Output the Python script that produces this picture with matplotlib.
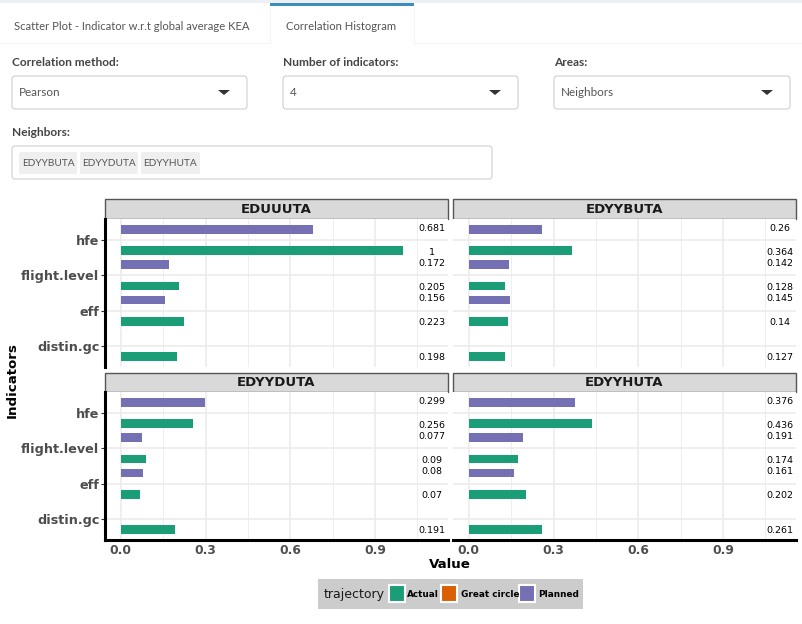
import matplotlib
matplotlib.use("Agg")
import matplotlib.pyplot as plt
from matplotlib.patches import Rectangle, FancyBboxPatch, Polygon

W, H = 803, 624

indicators = ["hfe", "flight.level", "eff", "distin.gc"]
airports = ["EDUUUTA", "EDYYBUTA", "EDYYDUTA", "EDYYHUTA"]
actual = [[1, 0.205, 0.223, 0.198],
          [0.364, 0.128, 0.14, 0.127],
          [0.256, 0.09, 0.07, 0.191],
          [0.436, 0.174, 0.202, 0.261]]
planned = [[0.681, 0.172, 0.156],
           [0.26, 0.142, 0.145],
           [0.299, 0.077, 0.08],
           [0.376, 0.191, 0.161]]
xticks = [0, 0.3, 0.6, 0.9]
xminor = [0.15, 0.45, 0.75, 1.05]

GREEN, ORANGE, PURPLE = "#1b9e77", "#d95f02", "#7570b3"
UI_FONT = "Lato"

fig = plt.figure(figsize=(W / 100, H / 100), dpi=100)

# page elements, drawn in pixel coordinates
bg = fig.add_axes([0, 0, 1, 1])
bg.set_xlim(0, W)
bg.set_ylim(H, 0)
bg.axis("off")

bg.add_patch(Rectangle((0, 0), W, 3, fc="#ecf0f5", ec="none"))
bg.plot([0, 270], [43, 43], color="#f4f4f4", lw=0.8)
bg.plot([414, W], [43, 43], color="#f4f4f4", lw=0.8)
bg.plot([270, 270], [6, 43], color="#f4f4f4", lw=0.8)
bg.plot([414, 414], [6, 43], color="#f4f4f4", lw=0.8)
bg.add_patch(Rectangle((270, 3), 144, 3, fc="#3c8dbc", ec="none"))
bg.text(14, 26, "Scatter Plot - Indicator w.r.t global average KEA", fontsize=8.1,
        color="#555555", family=UI_FONT, va="center")
bg.text(286, 26, "Correlation Histogram", fontsize=8.1, color="#555555",
        family=UI_FONT, va="center")


def select_box(x0, x1, y0, y1):
    bg.add_patch(FancyBboxPatch((x0 + 3, y0 + 3), x1 - x0 - 6, y1 - y0 - 6,
                                boxstyle="round,pad=3,rounding_size=3",
                                fc="white", ec="#c8c8c8", lw=0.7))


inputs = [(12, 247, "Correlation method:", "Pearson"),
          (283, 518, "Number of indicators:", "4"),
          (554, 790, "Areas:", "Neighbors")]
for x0, x1, title, value in inputs:
    bg.text(x0, 63, title, fontsize=8.6, fontweight="bold", color="#444444",
            family=UI_FONT, va="center")
    select_box(x0, x1, 76, 109)
    bg.text(x0 + 7, 93, value, fontsize=8.4, color="#555555", family=UI_FONT, va="center")
    ax_x = x1 - 23
    bg.add_patch(Polygon([(ax_x - 6, 90), (ax_x + 6, 90), (ax_x, 95)], fc="#333333", ec="none"))

bg.text(12, 133, "Neighbors:", fontsize=8.6, fontweight="bold", color="#444444",
        family=UI_FONT, va="center")
select_box(12, 492, 146, 179)
chips = [(19, 77), (80, 138), (141, 200)]
for (x0, x1), name in zip(chips, airports[1:]):
    bg.add_patch(FancyBboxPatch((x0 + 2, 154), x1 - x0 - 4, 18,
                                boxstyle="round,pad=2,rounding_size=2",
                                fc="#efefef", ec="none"))
    bg.text((x0 + x1) / 2, 163, name, fontsize=7.3, color="#555555", family=UI_FONT,
            ha="center", va="center")

# facets
panel_x = [(105, 448), (453, 796), (105, 448), (453, 796)]
panel_y = [(219, 367), (219, 367), (392, 540), (392, 540)]
strip_y = [(199, 219), (199, 219), (373, 392), (373, 392)]

for i, name in enumerate(airports):
    x0, x1 = panel_x[i]
    y0, y1 = panel_y[i]
    ax = fig.add_axes([x0 / W, 1 - y1 / H, (x1 - x0) / W, (y1 - y0) / H])
    ax.set_xlim(-0.0556, 1.158)
    ax.set_ylim(3.6, -0.6)
    ax.set_xticks(xticks)
    ax.set_xticks(xminor, minor=True)
    ax.set_yticks(range(len(indicators)))
    ax.set_yticklabels(indicators)
    ax.set_axisbelow(True)
    ax.grid(True, which="major", color="#ebebeb", lw=1.1)
    ax.grid(True, which="minor", axis="x", color="#ebebeb", lw=0.6)
    for s in ax.spines.values():
        s.set_visible(False)

    for j, v in enumerate(actual[i]):
        ax.barh(j + 0.3, v, height=0.25, color=GREEN, lw=0)
        ax.annotate(str(v), (1.1, j + 0.3), xytext=(0, -1), textcoords="offset points",
                    ha="center", va="center", fontsize=6.8, color="black")
    for j, v in enumerate(planned[i]):
        ax.barh(j - 0.3, v, height=0.25, color=PURPLE, lw=0)
        ax.annotate(str(v), (1.1, j - 0.3), xytext=(0, 1), textcoords="offset points",
                    ha="center", va="center", fontsize=6.8, color="black")

    ax.tick_params(which="both", bottom=False, left=False, labelbottom=False, labelleft=False)
    if i in (0, 2):
        ax.spines["left"].set_visible(True)
        ax.spines["left"].set_linewidth(2.2)
        ax.tick_params(axis="y", left=True, labelleft=True, length=3, width=0.8, pad=1,
                       color="#333333", labelcolor="#4d4d4d", labelsize=9.2)
        for lab in ax.get_yticklabels():
            lab.set_fontweight("bold")
    if i in (2, 3):
        ax.spines["bottom"].set_visible(True)
        ax.spines["bottom"].set_linewidth(2.2)
        ax.tick_params(axis="x", which="major", bottom=True, labelbottom=True, length=0, pad=3,
                       labelcolor="#4d4d4d", labelsize=8.8)
        for lab in ax.get_xticklabels():
            lab.set_fontweight("bold")

    sy0, sy1 = strip_y[i]
    bg.add_patch(Rectangle((x0, sy0), x1 - x0, sy1 - sy0, fc="#d9d9d9", ec="#555555", lw=1))
    bg.text((x0 + x1) / 2, (sy0 + sy1) / 2 + 0.5, name, fontsize=9.5, fontweight="bold",
            color="#1a1a1a", ha="center", va="center")

bg.text(12, 380, "Indicators", fontsize=9.6, fontweight="bold", rotation=90,
        ha="center", va="center", color="black")
bg.text(450, 564, "Value", fontsize=9.6, fontweight="bold", ha="center", va="center",
        color="black")

# legend
bg.add_patch(Rectangle((318, 579), 265, 30, fc="#cccccc", ec="none"))
bg.text(324, 594.5, "trajectory", fontsize=9, color="#1a1a1a", va="center")
legend_items = [(388, 19, "Actual", GREEN), (440, 21, "Great circle", ORANGE), (518, 20, "Planned", PURPLE)]
for x, dx, label, col in legend_items:
    bg.add_patch(Rectangle((x + 1, 585), 16, 17, fc=col, ec="white", lw=1.5))
    bg.text(x + dx, 594.5, label, fontsize=6.4, fontweight="bold", color="black", va="center")

fig.savefig("out.png", dpi=100)
